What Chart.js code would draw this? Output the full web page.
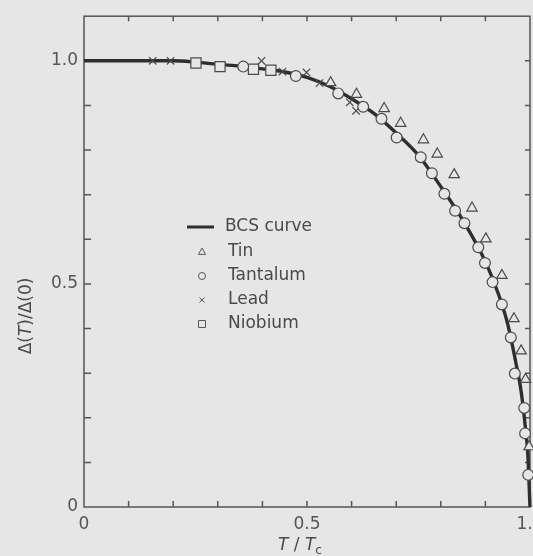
<!DOCTYPE html>
<html>
<head>
<meta charset="utf-8">
<script src="https://cdn.jsdelivr.net/npm/chart.js@4.4.0/dist/chart.umd.min.js"></script>
<style>
  html, body { margin: 0; padding: 0; background: #e6e6e6; overflow: hidden; }
  canvas { display: block; }
</style>
</head>
<body>
<canvas id="gapChart" width="560" height="556"></canvas>
<script>
// energy gap vs reduced temperature, BCS curve with measured points
const bcsT   = [0, 0.1, 0.2, 0.25, 0.3, 0.35, 0.4, 0.45, 0.5, 0.55, 0.6, 0.65, 0.7, 0.75, 0.8, 0.85, 0.9, 0.93, 0.95, 0.97, 0.98, 0.99, 0.995, 1.0];
const bcsGap = [1.0, 1.0, 1.0, 0.997, 0.992, 0.988, 0.982, 0.975, 0.963, 0.943, 0.915, 0.882, 0.838, 0.788, 0.718, 0.642, 0.55, 0.475, 0.41, 0.315, 0.26, 0.175, 0.12, 0];

const tinT   = [0.553, 0.611, 0.673, 0.710, 0.761, 0.792, 0.830, 0.870, 0.901, 0.937, 0.964, 0.980, 0.990, 0.998];
const tinGap = [0.951, 0.925, 0.893, 0.860, 0.823, 0.791, 0.745, 0.670, 0.601, 0.519, 0.422, 0.350, 0.286, 0.135];

const tantalumT   = [0.357, 0.475, 0.570, 0.626, 0.667, 0.701, 0.755, 0.780, 0.808, 0.832, 0.853, 0.884, 0.899, 0.916, 0.937, 0.957, 0.966, 0.987, 0.989, 0.996];
const tantalumGap = [0.987, 0.966, 0.927, 0.897, 0.870, 0.828, 0.784, 0.748, 0.702, 0.664, 0.636, 0.582, 0.547, 0.504, 0.454, 0.380, 0.299, 0.222, 0.165, 0.072];

const leadT   = [0.154, 0.194, 0.398, 0.445, 0.499, 0.528, 0.596, 0.610];
const leadGap = [1.0, 1.0, 1.0, 0.976, 0.974, 0.950, 0.907, 0.888];

const niobiumT   = [0.251, 0.305, 0.380, 0.419];
const niobiumGap = [0.995, 0.987, 0.981, 0.979];

const labelledTicks = [0, 0.5, 1.0];
const tickText = ['0', '0.5', '1.0'];

const BG = '#e6e6e6';
const INK = '#555';

function pts(xs, ys) {
    return xs.map((x, i) => ({ x: x, y: ys[i] }));
}

function tickLabel(v) {
    const i = labelledTicks.findIndex(t => Math.abs(t - v) < 1e-6);
    return i < 0 ? '' : tickText[i];
}

function marker(style, radius) {
    return {
        showLine: false,
        pointStyle: style,
        pointRadius: radius,
        pointHoverRadius: radius,
        pointBorderColor: '#4a4a4a',
        pointBackgroundColor: BG,
        pointBorderWidth: 1.2,
        clip: false,
        order: 0
    };
}

function drawSymbol(ctx, style, cx, cy) {
    ctx.beginPath();
    if (style === 'triangle') {
        ctx.moveTo(cx, cy - 4);
        ctx.lineTo(cx + 3.6, cy + 2.4);
        ctx.lineTo(cx - 3.6, cy + 2.4);
        ctx.closePath();
    } else if (style === 'circle') {
        ctx.arc(cx, cy, 3.5, 0, Math.PI * 2);
    } else if (style === 'crossRot') {
        ctx.moveTo(cx - 2.5, cy - 2.5); ctx.lineTo(cx + 2.5, cy + 2.5);
        ctx.moveTo(cx + 2.5, cy - 2.5); ctx.lineTo(cx - 2.5, cy + 2.5);
    } else if (style === 'rect') {
        ctx.rect(cx - 3.5, cy - 3.5, 7, 7);
    }
    ctx.stroke();
}

function drawPieces(ctx, pieces, x, y) {
    let cx = x;
    pieces.forEach(p => {
        ctx.font = p[1];
        ctx.fillText(p[0], cx, y + (p[2] || 0));
        cx += ctx.measureText(p[0]).width;
    });
}

function piecesWidth(ctx, pieces) {
    let w = 0;
    pieces.forEach(p => { ctx.font = p[1]; w += ctx.measureText(p[0]).width; });
    return w;
}

const framePlugin = {
    id: 'frame',
    beforeDatasetsDraw(chart) {
        const { ctx, chartArea: a, scales } = chart;
        ctx.save();
        ctx.strokeStyle = INK;
        ctx.lineWidth = 1.5;
        ctx.strokeRect(a.left, a.top, a.right - a.left, a.bottom - a.top);
        ctx.beginPath();
        for (let i = 1; i < 10; i++) {
            const px = scales.x.getPixelForValue(i / 10);
            ctx.moveTo(px, a.bottom); ctx.lineTo(px, a.bottom - 6);
            ctx.moveTo(px, a.top); ctx.lineTo(px, a.top + 5);
        }
        for (let i = 1; i <= 10; i++) {
            const py = scales.y.getPixelForValue(i / 10);
            ctx.moveTo(a.left, py); ctx.lineTo(a.left + 7, py);
            ctx.moveTo(a.right, py); ctx.lineTo(a.right - 5, py);
        }
        ctx.stroke();
        ctx.restore();
    },
    afterDraw(chart) {
        const { ctx } = chart;
        ctx.save();
        ctx.fillStyle = '#4a4a4a';
        ctx.strokeStyle = INK;
        ctx.textBaseline = 'middle';

        // legend inside the plot
        const rowsY = [227, 252, 276, 300, 324];
        chart.data.datasets.forEach((ds, i) => {
            const y = rowsY[i];
            if (ds.showLine) {
                ctx.lineWidth = 3;
                ctx.strokeStyle = '#2e2e2e';
                ctx.beginPath();
                ctx.moveTo(187, y); ctx.lineTo(214, y);
                ctx.stroke();
                ctx.strokeStyle = INK;
            } else {
                ctx.lineWidth = 1;
                drawSymbol(ctx, ds.pointStyle, 202, y);
            }
            ctx.font = '17px "DejaVu Sans"';
            ctx.fillText(ds.label, ds.showLine ? 225 : 228, y);
        });

        // x title: T / Tc
        const xt = [
            ['T', 'italic 17px "DejaVu Sans"'],
            [' / ', '17px "DejaVu Sans"'],
            ['T', 'italic 17px "DejaVu Sans"'],
            ['c', '12px "DejaVu Sans"', 5]
        ];
        drawPieces(ctx, xt, 300 - piecesWidth(ctx, xt) / 2, 546);

        // y title: Δ(T)/Δ(0)
        const yt = [
            ['Δ(', '17px "DejaVu Sans"'],
            ['T', 'italic 17px "DejaVu Sans"'],
            [')/Δ(0)', '17px "DejaVu Sans"']
        ];
        ctx.translate(27, 316);
        ctx.rotate(-Math.PI / 2);
        drawPieces(ctx, yt, -piecesWidth(ctx, yt) / 2, 0);
        ctx.restore();
    }
};

new Chart(document.getElementById('gapChart'), {
    type: 'scatter',
    data: {
        datasets: [
            {
                label: 'BCS curve',
                data: pts(bcsT, bcsGap),
                showLine: true,
                borderColor: '#2e2e2e',
                borderWidth: 3.4,
                pointRadius: 0,
                cubicInterpolationMode: 'monotone',
                clip: false,
                order: 10
            },
            Object.assign({ label: 'Tin', data: pts(tinT, tinGap) }, marker('triangle', 6)),
            Object.assign({ label: 'Tantalum', data: pts(tantalumT, tantalumGap) }, marker('circle', 5.4)),
            Object.assign({ label: 'Lead', data: pts(leadT, leadGap) }, marker('crossRot', 5.2)),
            Object.assign({ label: 'Niobium', data: pts(niobiumT, niobiumGap) }, marker('rect', 7.2))
        ]
    },
    options: {
        responsive: false,
        animation: false,
        devicePixelRatio: 1,
        layout: { padding: { top: 15, right: 30, left: 0, bottom: 0 } },
        plugins: {
            legend: { display: false },
            tooltip: { enabled: false }
        },
        scales: {
            x: {
                type: 'linear',
                min: 0,
                max: 1,
                grid: { display: false, drawTicks: false },
                border: { display: false },
                ticks: {
                    stepSize: 0.1,
                    autoSkip: false,
                    maxRotation: 0,
                    padding: 7,
                    color: INK,
                    font: { family: 'DejaVu Sans', size: 17 },
                    callback: v => tickLabel(v)
                },
                afterFit: s => { s.height = 49; }
            },
            y: {
                type: 'linear',
                min: 0,
                max: 1.1,
                grid: { display: false, drawTicks: false },
                border: { display: false },
                ticks: {
                    stepSize: 0.1,
                    autoSkip: false,
                    padding: 6,
                    color: INK,
                    font: { family: 'DejaVu Sans', size: 17 },
                    callback: v => tickLabel(v)
                },
                afterFit: s => { s.width = 84; }
            }
        }
    },
    plugins: [framePlugin]
});
</script>
</body>
</html>
